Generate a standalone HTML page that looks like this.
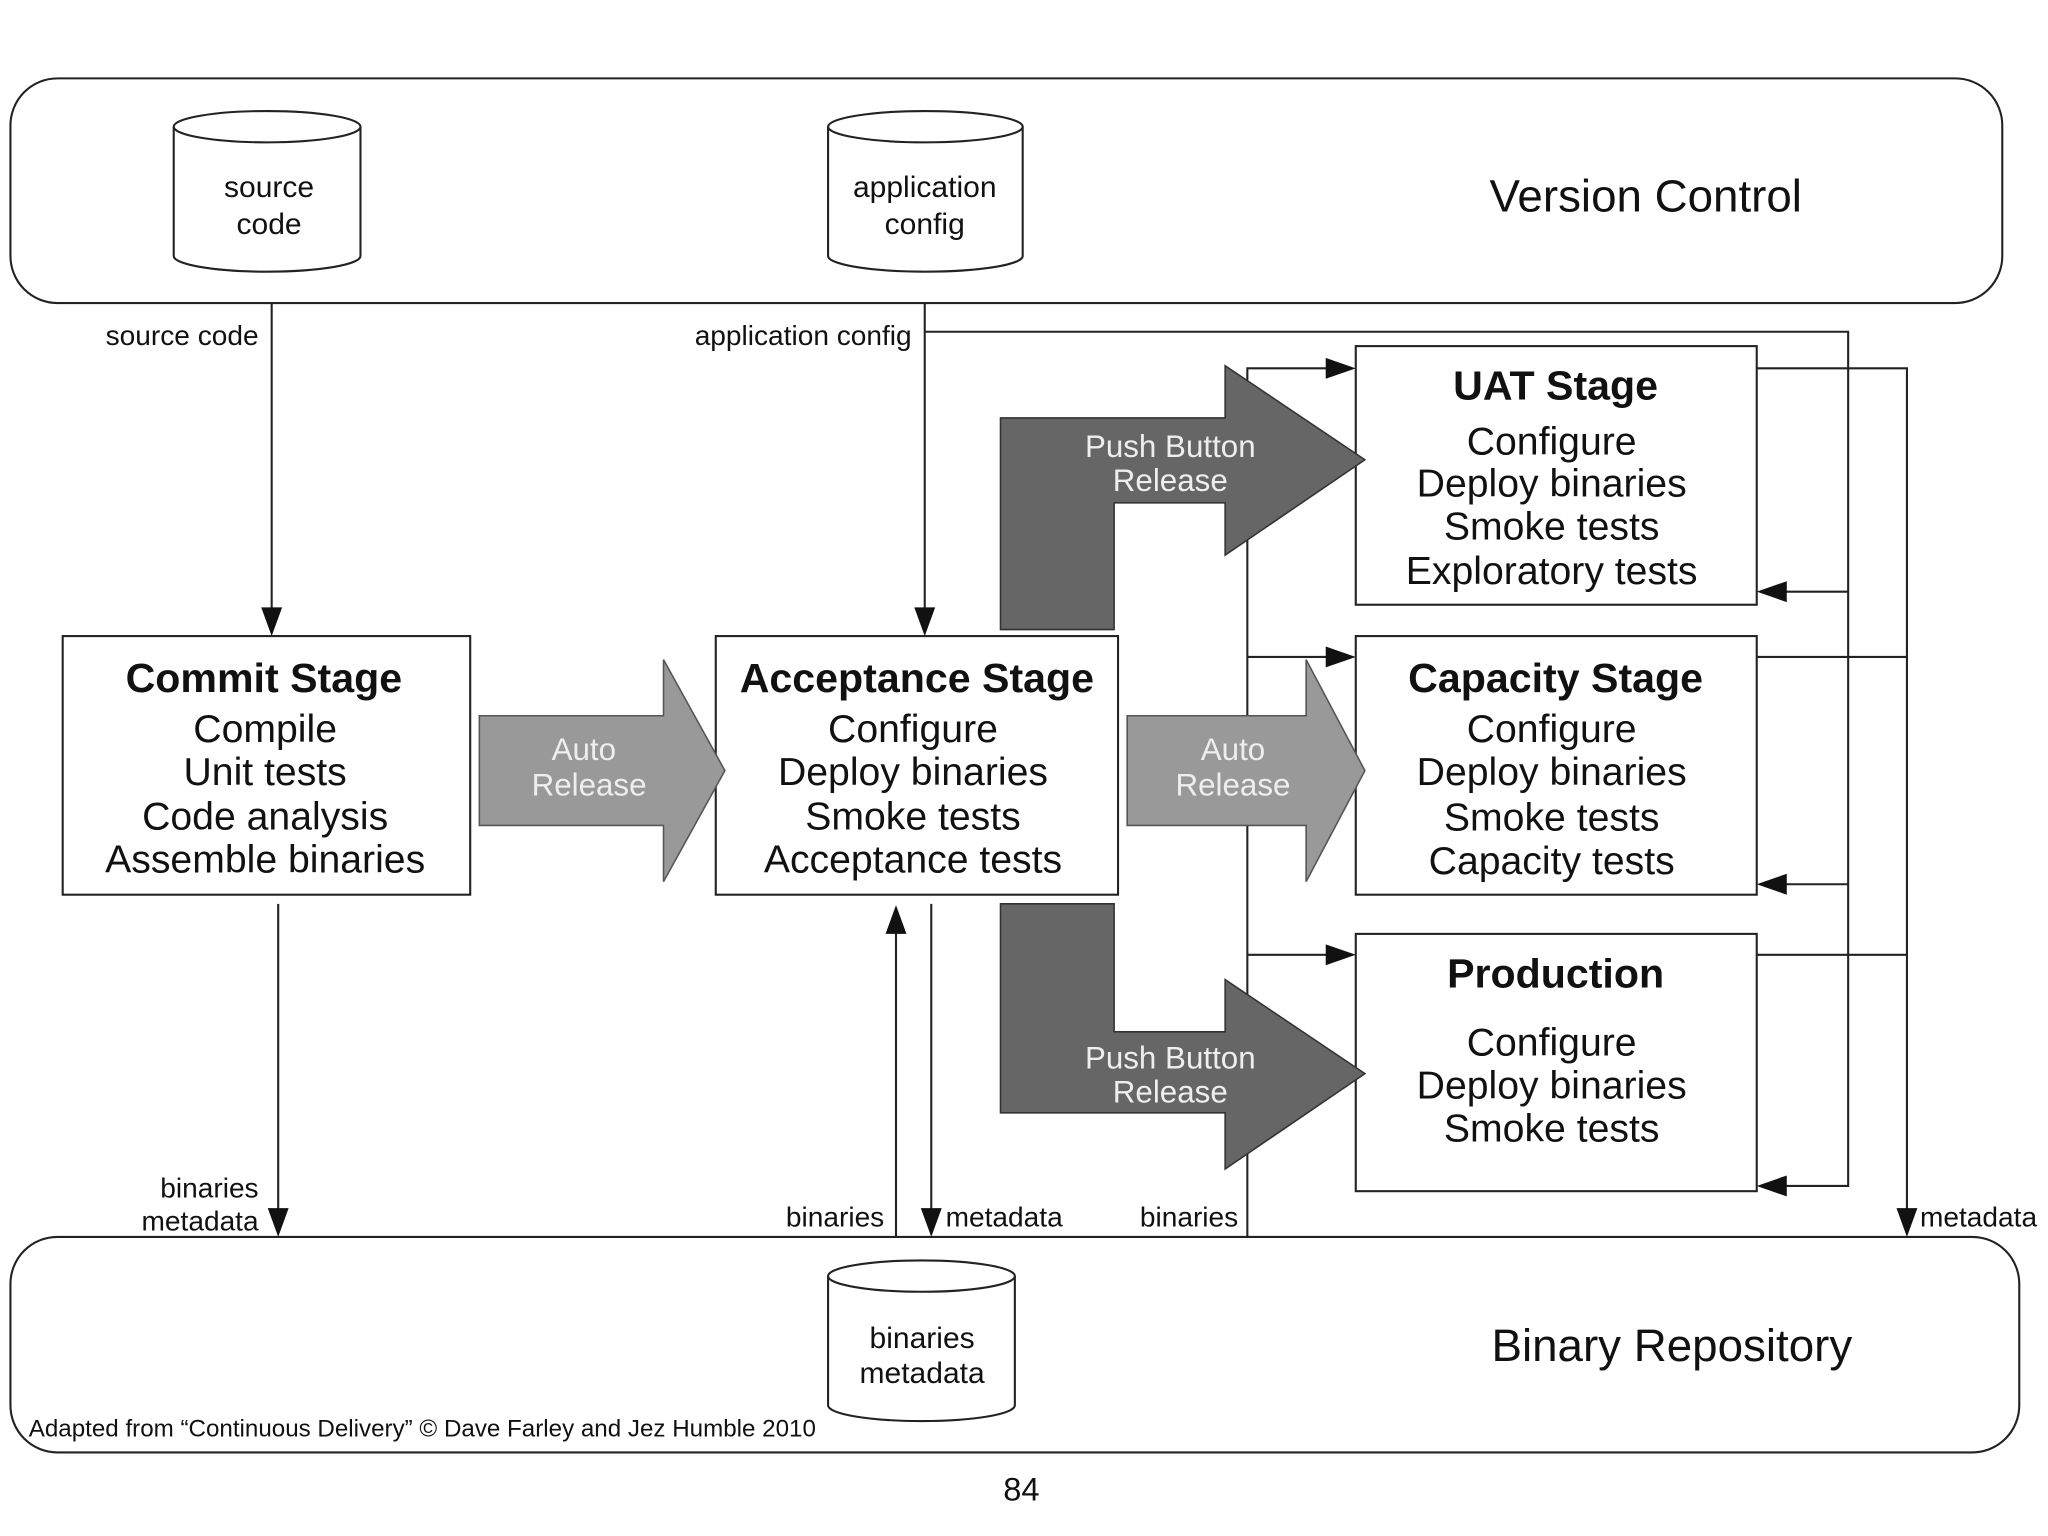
<!DOCTYPE html>
<html><head><meta charset="utf-8"><style>
html,body{margin:0;padding:0;background:#fff;}
svg{display:block;}
text{font-family:"Liberation Sans",sans-serif;}
</style></head><body>
<svg width="2048" height="1536" viewBox="0 0 1568 1176" xmlns="http://www.w3.org/2000/svg">
<rect width="1568" height="1176" fill="#fff"/>
<g fill="none" stroke="#222" stroke-width="1.6">
<rect x="8" y="60" width="1525" height="172" rx="36"/>
<rect x="8" y="947" width="1538" height="165" rx="36"/>
<path d="M133 97 V196 A71.5 12 0 0 0 276 196 V97"/><ellipse cx="204.5" cy="97" rx="71.5" ry="12"/>
<path d="M634 97 V196 A74.5 12 0 0 0 783 196 V97"/><ellipse cx="708.5" cy="97" rx="74.5" ry="12"/>
<path d="M634 977 V1076 A71.5 12 0 0 0 777 1076 V977"/><ellipse cx="705.5" cy="977" rx="71.5" ry="12"/>
<rect x="48" y="487" width="312" height="198"/>
<rect x="548" y="487" width="308" height="198"/>
<rect x="1038" y="265" width="307" height="198"/>
<rect x="1038" y="487" width="307" height="198"/>
<rect x="1038" y="715" width="307" height="197"/>
<path d="M208 232 V470"/>
<path d="M708 232 V470"/>
<path d="M708 254 H1415 V908 H1362"/>
<path d="M1415 453 H1362 M1415 677 H1362"/>
<path d="M955 947 V282 H1020 M955 503 H1020 M955 731 H1020"/>
<path d="M1345 282 H1460 V930 M1345 503 H1460 M1345 731 H1460"/>
<path d="M213 692 V930"/>
<path d="M686 947 V710"/>
<path d="M713 692 V930"/>
</g>
<g fill="#111">
<path d="M200 465 L216 465 L208 487Z"/>
<path d="M700 465 L716 465 L708 487Z"/>
<path d="M1015 274 L1038 282 L1015 290Z"/>
<path d="M1015 495 L1038 503 L1015 511Z"/>
<path d="M1015 723 L1038 731 L1015 739Z"/>
<path d="M1368 445 L1345 453 L1368 461Z"/>
<path d="M1368 669 L1345 677 L1368 685Z"/>
<path d="M1368 900 L1345 908 L1368 916Z"/>
<path d="M1452 925 L1468 925 L1460 947Z"/>
<path d="M205 925 L221 925 L213 947Z"/>
<path d="M705 925 L721 925 L713 947Z"/>
<path d="M678 715 L694 715 L686 693Z"/>
</g>
<path d="M367 548 H508 V505 L555 590 L508 675 V632 H367Z" fill="#999" stroke="#555" stroke-width="1.2"/>
<path d="M863 548 H1000 V505 L1045 590 L1000 675 V632 H863Z" fill="#999" stroke="#555" stroke-width="1.2"/>
<path d="M766 482 V320 H938 V280 L1045 352 L938 425 V385 H853 V482Z" fill="#666" stroke="#333" stroke-width="1.2"/>
<path d="M766 692 V852 H938 V895 L1045 822 L938 750 V790 H853 V692Z" fill="#666" stroke="#333" stroke-width="1.2"/>
<g fill="#eee" font-size="24" text-anchor="middle">
<text x="447" y="582">Auto</text><text x="451" y="609">Release</text>
<text x="944" y="582">Auto</text><text x="944" y="609">Release</text>
<text x="896" y="350">Push Button</text><text x="896" y="376">Release</text>
<text x="896" y="818">Push Button</text><text x="896" y="844">Release</text>
</g>
<g fill="#111" text-anchor="middle">
<text x="206" y="151" font-size="23">source</text><text x="206" y="179" font-size="23">code</text>
<text x="708" y="151" font-size="23">application</text><text x="708" y="179" font-size="23">config</text>
<text x="706" y="1032" font-size="23">binaries</text><text x="706" y="1059" font-size="23">metadata</text>
<text x="1260" y="162" font-size="35">Version Control</text>
<text x="1280" y="1042" font-size="35">Binary Repository</text>
<text x="782" y="1149" font-size="25">84</text>
<g font-size="31.5" font-weight="bold">
<text x="202" y="530">Commit Stage</text>
<text x="702" y="530">Acceptance Stage</text>
<text x="1191" y="306">UAT Stage</text>
<text x="1191" y="530">Capacity Stage</text>
<text x="1191" y="756">Production</text>
</g>
<g font-size="30">
<text x="203" y="568">Compile</text><text x="203" y="601">Unit tests</text><text x="203" y="635">Code analysis</text><text x="203" y="668">Assemble binaries</text>
<text x="699" y="568">Configure</text><text x="699" y="601">Deploy binaries</text><text x="699" y="635">Smoke tests</text><text x="699" y="668">Acceptance tests</text>
<text x="1188" y="348">Configure</text><text x="1188" y="380">Deploy binaries</text><text x="1188" y="413">Smoke tests</text><text x="1188" y="447">Exploratory tests</text>
<text x="1188" y="568">Configure</text><text x="1188" y="601">Deploy binaries</text><text x="1188" y="636">Smoke tests</text><text x="1188" y="669">Capacity tests</text>
<text x="1188" y="808">Configure</text><text x="1188" y="841">Deploy binaries</text><text x="1188" y="874">Smoke tests</text>
</g>
</g>
<g fill="#111" font-size="21.5">
<text x="198" y="264" text-anchor="end">source code</text>
<text x="698" y="264" text-anchor="end">application config</text>
<text x="198" y="917" text-anchor="end">binaries</text>
<text x="198" y="942" text-anchor="end">metadata</text>
<text x="677" y="939" text-anchor="end">binaries</text>
<text x="724" y="939">metadata</text>
<text x="948" y="939" text-anchor="end">binaries</text>
<text x="1470" y="939">metadata</text>
<text x="22" y="1100" font-size="18.5">Adapted from “Continuous Delivery” © Dave Farley and Jez Humble 2010</text>
</g>
</svg>
</body></html>
